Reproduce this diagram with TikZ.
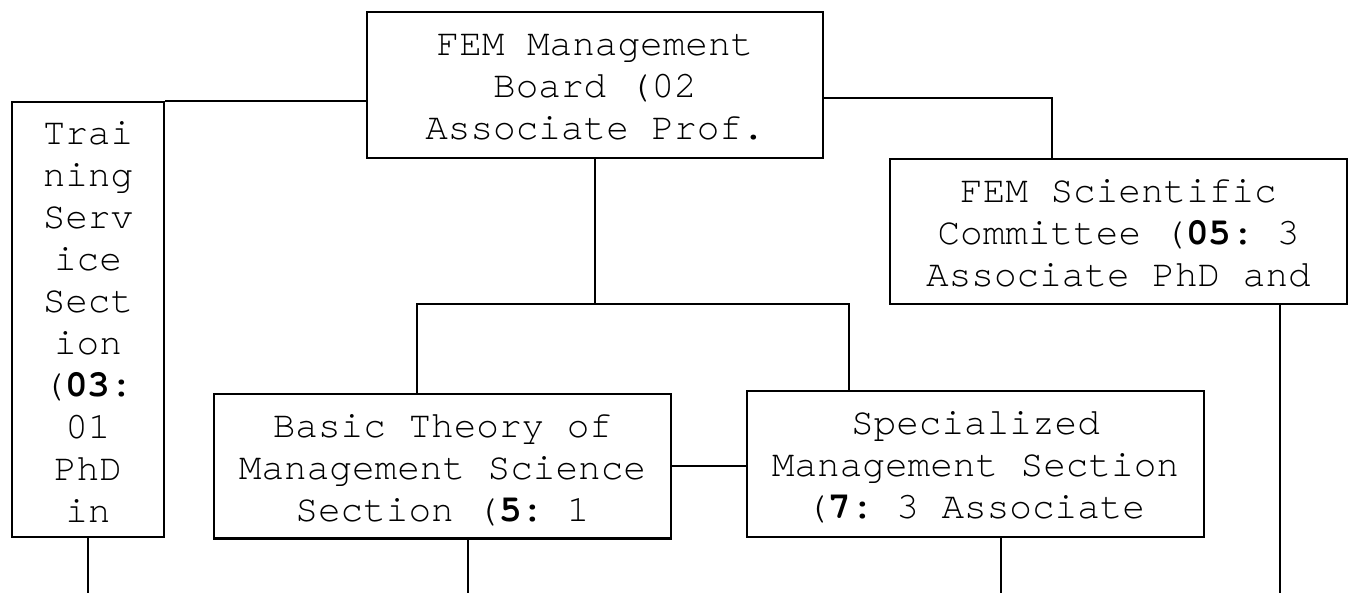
\documentclass[tikz,border=0pt]{standalone}
\usepackage{fontspec}
\setmainfont{TeX Gyre Cursor}[BoldFont={TeX Gyre Cursor Bold}, Ligatures=NoCommon]
\newcommand\txtstrut{\rule{0pt}{18pt}}
\newcommand\boxfont{\fontsize{18.85pt}{21pt}\selectfont\lineskiplimit -100pt\relax\frenchspacing}
\tikzset{
  box/.style={draw, line width=1pt, inner sep=0pt, rectangle},
  txt/.style={anchor=north, align=center, inner sep=0pt, font=\boxfont},
  link/.style={line width=0.9pt},
}
\begin{document}
\begin{tikzpicture}[x=0.5pt,y=-0.5pt]
\useasboundingbox (0,0) rectangle (1351,593);
% boxes
\node[box, minimum width=228pt, minimum height=72.75pt] (board) at (595,85.25) {};
\node[box, minimum width=76pt, minimum height=217.5pt] (train) at (88,319.5) {};
\node[box, minimum width=228.5pt, minimum height=72.5pt] (sci) at (1118.5,231.5) {};
\node[box, minimum width=228.5pt, minimum height=72.25pt] (basic) at (442.5,466.25) {};
\node[box, minimum width=228.5pt, minimum height=73pt] (spec) at (975.5,464) {};
% texts
\node[txt] (boardtxt) at ([yshift=-4pt]board.north) {\txtstrut FEM Management\\Board (02\\Associate Prof.};
\node[txt] (traintxt) at ([yshift=-3.5pt]train.north) {\txtstrut Trai\\ning\\Serv\\ice\\Sect\\ion\\(\textbf{03:}\\01\\PhD\\in};
\node[txt] (scitxt) at ([yshift=-4pt]sci.north) {\txtstrut FEM Scientific\\Committee (\textbf{05}: 3\\Associate PhD and};
\node[txt] (basictxt) at ([yshift=-4pt]basic.north) {\txtstrut Basic Theory of\\Management Science\\Section (\textbf{5:} 1};
\node[txt] (spectxt) at ([yshift=-4pt]spec.north) {\txtstrut Specialized\\Management Section\\(\textbf{7:} 3 Associate};
% junction coordinates
\coordinate (c1) at (1052,98);
\coordinate (jl) at (417,304);
\coordinate (jr) at (849,304);
\coordinate (e1) at (88,593);
\coordinate (e2) at (468,593);
\coordinate (e3) at (1001,593);
\coordinate (e4) at (1280,593);
% connectors
\draw[link] (board.west |- train.north east) -- (train.north east);
\draw[link] (board.east |- c1) -| (sci.north -| c1);
\draw[link] (board.south) -- (board.south |- jl);
\draw[link] (basic.north -| jl) -- (jl) -- (jr) -- (spec.north -| jr);
\draw[link] (basic.east) -- (spec.west |- basic.east);
\draw[link] (train.south) -- (e1);
\draw[link] (basic.south -| e2) -- (e2);
\draw[link] (spec.south -| e3) -- (e3);
\draw[link] (sci.south -| e4) -- (e4);
\end{tikzpicture}
\end{document}
